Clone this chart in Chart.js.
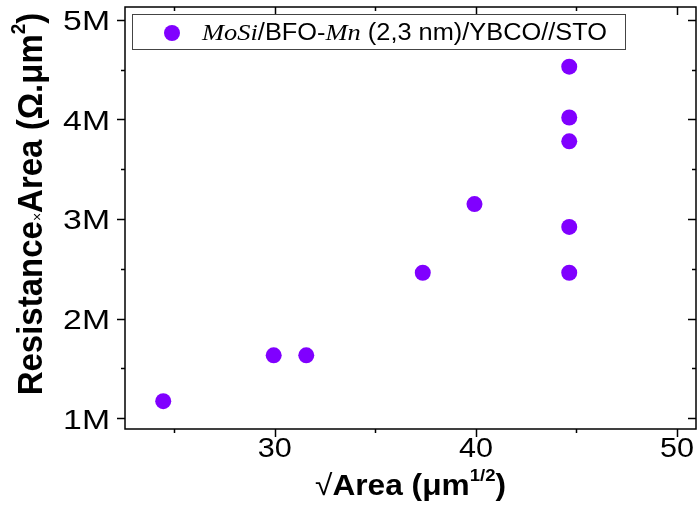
<!DOCTYPE html>
<html>
<head>
<meta charset="utf-8">
<script src="https://cdn.jsdelivr.net/npm/chart.js@4/dist/chart.umd.min.js"></script>
<style>
html,body{margin:0;padding:0;background:#fff;}
#wrap{position:relative;width:697px;height:516px;}
</style>
</head>
<body>
<div id="wrap"><canvas id="c" width="697" height="516"></canvas></div>
<script>
// ---- data ----
const seriesName = 'MoSi/BFO-Mn (2,3 nm)/YBCO//STO';
const xValues = [24.46, 29.95, 31.57, 37.36, 39.93, 44.64, 44.64, 44.64, 44.64, 44.64];
const yValues = [1.17e6, 1.63e6, 1.63e6, 2.46e6, 3.15e6, 4.53e6, 4.02e6, 3.78e6, 2.92e6, 2.46e6];
const xTickValues = [30, 40, 50];
const xTickLabels = ['30', '40', '50'];
const xMinorValues = [25, 35, 45];
const yTickValues = [1e6, 2e6, 3e6, 4e6, 5e6];
const yTickLabels = ['1M', '2M', '3M', '4M', '5M'];
const yMinorValues = [1.5e6, 2.5e6, 3.5e6, 4.5e6];

const COLOR = '#8000ff';
const SANS = '"Liberation Sans", Arial, sans-serif';
const SERIF = '"Liberation Serif", "Times New Roman", serif';

function runsWidth(ctx, runs) {
  let w = 0;
  for (const r of runs) { ctx.font = r.font; w += ctx.measureText(r.t).width; }
  return w;
}
function drawRuns(ctx, runs, x, y) {
  let cx = x;
  for (const r of runs) {
    ctx.font = r.font;
    ctx.fillText(r.t, cx, y + (r.dy || 0));
    cx += ctx.measureText(r.t).width;
  }
}

const decor = {
  id: 'decor',
  afterDraw(chart) {
    const ctx = chart.ctx;
    const a = chart.chartArea;
    const xs = chart.scales.x, ys = chart.scales.y;
    ctx.save();
    ctx.strokeStyle = '#000';
    ctx.fillStyle = '#000';
    ctx.lineWidth = 1.5;
    // frame
    ctx.strokeRect(a.left, a.top, a.right - a.left, a.bottom - a.top);
    // ticks
    const MAJ = 8, MIN = 4;
    ctx.beginPath();
    xTickValues.concat(xMinorValues).forEach(v => {
      const p = Math.round(xs.getPixelForValue(v)) + 0.5;
      const L = xTickValues.includes(v) ? MAJ : MIN;
      ctx.moveTo(p, a.bottom); ctx.lineTo(p, a.bottom + L);
      ctx.moveTo(p, a.top); ctx.lineTo(p, a.top + L);
    });
    yTickValues.concat(yMinorValues).forEach(v => {
      const p = Math.round(ys.getPixelForValue(v)) + 0.5;
      const L = yTickValues.includes(v) ? MAJ : MIN;
      ctx.moveTo(a.left, p); ctx.lineTo(a.left - L, p);
      ctx.moveTo(a.right, p); ctx.lineTo(a.right - L, p);
    });
    ctx.stroke();

    // tick labels
    ctx.textBaseline = 'alphabetic';
    ctx.textAlign = 'left';
    xTickValues.forEach((v, i) => {
      ctx.font = '27px ' + SANS;
      const m = ctx.measureText(xTickLabels[i]).width;
      const sx = 34 / m * (xTickLabels[i].length / 2);
      const w = m * sx;
      const p = xs.getPixelForValue(v);
      ctx.save(); ctx.translate(p - w / 2, a.bottom + 28); ctx.scale(sx, 1);
      ctx.fillText(xTickLabels[i], 0, 0); ctx.restore();
    });
    yTickValues.forEach((v, i) => {
      ctx.font = '27px ' + SANS;
      const m = ctx.measureText(yTickLabels[i]).width;
      const sx = 1.25;
      const w = m * sx;
      const p = ys.getPixelForValue(v);
      ctx.save(); ctx.translate(a.left - 15 - w, p + 10.5); ctx.scale(sx, 1);
      ctx.fillText(yTickLabels[i], 0, 0); ctx.restore();
    });

    // x title
    const xb = 'bold 29px ' + SANS;
    const xRuns = [
      {t: '\u221A', font: '29px ' + SANS},
      {t: 'Area (\u03BCm', font: xb},
      {t: '1/2', font: 'bold 17px ' + SANS, dy: -14},
      {t: ')', font: xb}
    ];
    ctx.save();
    ctx.translate(315, 495);
    ctx.scale(191 / runsWidth(ctx, xRuns), 1);
    drawRuns(ctx, xRuns, 0, 0);
    ctx.restore();

    // y title (rotated)
    const yb = 'bold 33px ' + SANS;
    const yRuns = [
      {t: 'Resistance', font: yb},
      {t: '\u00D7', font: '14px ' + SANS, dy: 0},
      {t: 'Area (\u03A9.\u03BCm', font: yb},
      {t: '2', font: 'bold 19px ' + SANS, dy: -16},
      {t: ')', font: yb}
    ];
    const yw = runsWidth(ctx, yRuns);
    ctx.save();
    ctx.translate(42, 204 + yw / 2);
    ctx.rotate(-Math.PI / 2);
    ctx.scale(1, 1.06);
    drawRuns(ctx, yRuns, 0, 0);
    ctx.restore();

    // legend
    ctx.lineWidth = 1;
    ctx.strokeStyle = '#444';
    ctx.strokeRect(132.5, 14.5, 493, 35);
    ctx.fillStyle = COLOR;
    ctx.beginPath(); ctx.arc(172, 33, 8, 0, Math.PI * 2); ctx.fill();
    ctx.fillStyle = '#000';
    const ls = '23px ' + SANS, li = 'italic 24px ' + SERIF;
    const lRuns = [
      {t: 'MoSi', font: li},
      {t: '/BFO-', font: ls},
      {t: 'Mn', font: li},
      {t: ' (2,3 nm)/YBCO//STO', font: ls}
    ];
    ctx.save();
    ctx.translate(202, 39.5);
    ctx.scale(405 / runsWidth(ctx, lRuns), 1);
    drawRuns(ctx, lRuns, 0, 0);
    ctx.restore();
    ctx.restore();
  }
};

new Chart(document.getElementById('c'), {
  type: 'scatter',
  data: {
    datasets: [{
      label: seriesName,
      data: xValues.map((x, i) => ({x: x, y: yValues[i]})),
      backgroundColor: COLOR,
      borderWidth: 0,
      pointRadius: 8,
      pointHoverRadius: 8
    }]
  },
  options: {
    responsive: false,
    animation: false,
    devicePixelRatio: 1,
    layout: {autoPadding: false, padding: {left: 0, top: 7, right: 1, bottom: 0}},
    plugins: {legend: {display: false}, tooltip: {enabled: false}},
    scales: {
      x: {
        type: 'linear', min: 22.56, max: 50.94,
        grid: {display: false}, border: {display: false},
        ticks: {display: false},
        afterFit(s) { s.height = 87; }
      },
      y: {
        type: 'linear', min: 0.89e6, max: 5.13e6,
        grid: {display: false}, border: {display: false},
        ticks: {display: false},
        afterFit(s) { s.width = 125; }
      }
    }
  },
  plugins: [decor]
});
</script>
</body>
</html>
